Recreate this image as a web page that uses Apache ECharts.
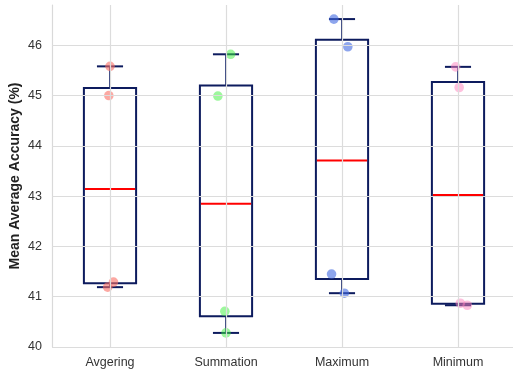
<!DOCTYPE html>
<html>
<head>
<meta charset="utf-8">
<script src="https://cdn.jsdelivr.net/npm/echarts@6/dist/echarts.min.js"></script>
<style>html,body{margin:0;padding:0;background:#fff;}#c{width:513px;height:373px;}</style>
</head>
<body>
<div id="c"></div>
<script>
var categories = ['Avgering', 'Summation', 'Maximum', 'Minimum'];
// box stats: [lowWhisker, Q1, median, Q3, highWhisker]
var boxLow    = [41.19, 40.28, 41.07, 40.83];
var boxQ1     = [41.27, 40.61, 41.35, 40.86];
var boxMedian = [43.14, 42.85, 43.71, 43.02];
var boxQ3     = [45.15, 45.20, 46.11, 45.27];
var boxHigh   = [45.58, 45.82, 46.52, 45.57];
// individual points per category (value) and their horizontal jitter (fraction of band)
var pointsAvg = [45.58, 45.00, 41.29, 41.19];
var pointsSum = [45.82, 44.99, 40.71, 40.28];
var pointsMax = [46.52, 45.97, 41.45, 41.07];
var pointsMin = [45.57, 45.16, 40.87, 40.83];
var jitterAvg = [0.00, -0.01, 0.03, -0.02];
var jitterSum = [0.04, -0.07, -0.01, 0.00];
var jitterMax = [-0.07, 0.05, -0.09, 0.02];
var jitterMin = [-0.02, 0.01, 0.02, 0.08];
var pointColors = ['rgba(250,110,100,0.6)', 'rgba(60,240,60,0.5)', 'rgba(65,105,225,0.6)', 'rgba(255,130,190,0.5)'];
var yTicks = [40, 41, 42, 43, 44, 45, 46];

var allPoints = [pointsAvg, pointsSum, pointsMax, pointsMin];
var allJitter = [jitterAvg, jitterSum, jitterMax, jitterMin];

var boxData = categories.map(function (c, i) {
  return [i, boxLow[i], boxQ1[i], boxMedian[i], boxQ3[i], boxHigh[i]];
});

var navy = '#0d1b5e';
function renderBox(params, api) {
  var idx = api.value(0);
  var xc = Math.round(api.coord([idx, 0])[0]);
  var band = api.size([1, 0])[0];
  var bw = band * 0.45, cw = band * 0.225;
  var yl = api.coord([idx, api.value(1)])[1];
  var y1 = api.coord([idx, api.value(2)])[1];
  var ym = api.coord([idx, api.value(3)])[1];
  var y3 = api.coord([idx, api.value(4)])[1];
  var yh = api.coord([idx, api.value(5)])[1];
  return {
    type: 'group',
    children: [
      { type: 'line', shape: { x1: xc, y1: y3, x2: xc, y2: yh }, style: { stroke: '#34427e', lineWidth: 2 } },
      { type: 'line', shape: { x1: xc, y1: y1, x2: xc, y2: yl }, style: { stroke: '#34427e', lineWidth: 2 } },
      { type: 'line', shape: { x1: xc - cw / 2, y1: yh, x2: xc + cw / 2, y2: yh }, style: { stroke: navy, lineWidth: 2 } },
      { type: 'line', shape: { x1: xc - cw / 2, y1: yl, x2: xc + cw / 2, y2: yl }, style: { stroke: navy, lineWidth: 2 } },
      { type: 'rect', shape: { x: xc - bw / 2, y: y3, width: bw, height: y1 - y3 }, style: { fill: 'rgba(255,255,255,0)', stroke: navy, lineWidth: 2 } },
      { type: 'line', shape: { x1: xc - bw / 2 + 1, y1: ym, x2: xc + bw / 2 - 1, y2: ym }, style: { stroke: '#ff0000', lineWidth: 2 } }
    ]
  };
}

var scatterData = [];
allPoints.forEach(function (arr, i) {
  arr.forEach(function (v, k) {
    scatterData.push({ value: [i, v, allJitter[i][k]], itemStyle: { color: pointColors[i] } });
  });
});
function renderPoint(params, api) {
  var idx = api.value(0);
  var band = api.size([1, 0])[0];
  var p = api.coord([idx, api.value(1)]);
  return {
    type: 'circle',
    shape: { cx: p[0] + api.value(2) * band, cy: p[1], r: 4.8 },
    style: { fill: api.visual('color') }
  };
}

var chart = echarts.init(document.getElementById('c'), null, { renderer: 'canvas' });
chart.setOption({
  animation: false,
  grid: { left: 52, right: -3, top: 5, bottom: 26, outerBoundsMode: 'none', containLabel: false },
  xAxis: {
    type: 'category',
    data: categories,
    boundaryGap: true,
    axisLine: { show: false },
    axisTick: { show: false },
    axisLabel: { color: '#333', fontSize: 12.5, fontFamily: 'Liberation Sans, Arial, sans-serif', margin: 9 },
    splitLine: { show: false }
  },
  yAxis: {
    type: 'value',
    min: 40, max: 46.8, interval: 1,
    name: 'Mean Average Accuracy (%)',
    nameLocation: 'middle',
    nameGap: 30,
    nameMoveOverlap: false,
    nameTextStyle: { color: '#222', fontSize: 14, fontWeight: 'bold', fontFamily: 'Liberation Sans, Arial, sans-serif' },
    axisLine: { show: true, lineStyle: { color: '#d9d9d9', width: 1.2 } },
    axisTick: { show: false },
    axisLabel: {
      color: '#333', fontSize: 12.5, fontFamily: 'Liberation Sans, Arial, sans-serif', margin: 10,
      formatter: function (v) { return (Math.abs(v - Math.round(v)) < 1e-6) ? String(Math.round(v)) : ''; }
    },
    splitLine: { show: false }
  },
  series: [
    {
      type: 'scatter', data: [], z: 1, silent: true,
      markLine: {
        silent: true, symbol: 'none', label: { show: false },
        lineStyle: { color: '#dcdcdc', width: 1.2, type: 'solid' },
        data: yTicks.map(function (t) { return { yAxis: t }; }).concat(categories.map(function (c) { return { xAxis: c }; }))
      }
    },
    { type: 'custom', renderItem: renderBox, data: boxData, z: 3, encode: { x: 0, y: [1, 2, 3, 4, 5] } },
    { type: 'custom', renderItem: renderPoint, data: scatterData, z: 4, encode: { x: 0, y: 1 } }
  ]
});
</script>
</body>
</html>
